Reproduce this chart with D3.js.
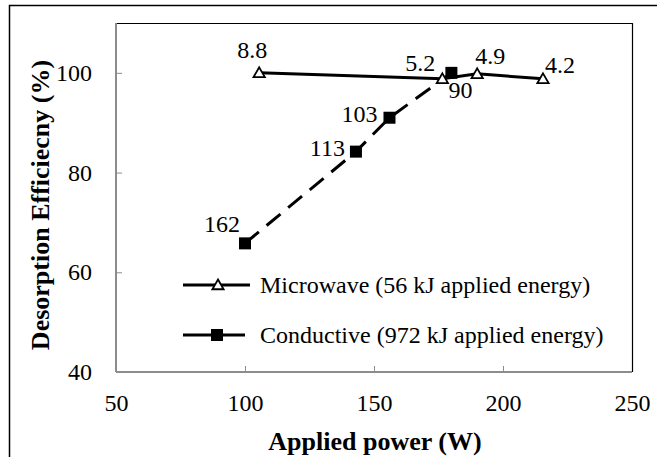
<!DOCTYPE html>
<html>
<head>
  <meta charset="utf-8">
  <title>Desorption efficiency</title>
  <script src="https://cdn.jsdelivr.net/npm/d3@7"></script>
  <style>
    html, body { margin: 0; padding: 0; background: #fff; }
    svg { display: block; }
    svg text { font-family: "Liberation Serif", "Times New Roman", serif; fill: #000; }
  </style>
</head>
<body>
  <svg id="chart" width="657" height="457"></svg>
  <script>
    // values
    let microPower = [105.5, 176.5, 190, 215.5]
    let microEff = [100, 98.8, 99.8, 98.8]
    let microLabels = ['8.8', '5.2', '4.9', '4.2']
    let condPower = [100, 143, 156, 180]
    let condEff = [65.8, 84.2, 91, 100]
    let condLabels = ['162', '113', '103', '90']
    let xTicks = [50, 100, 150, 200, 250]
    let yTicks = [40, 60, 80, 100]
    let seriesNames = ['Microwave (56 kJ applied energy)', 'Conductive (972 kJ applied energy)']

    let svg = d3.select('#chart')
    let pLeft = 116, pRight = 632, pTop = 23, pBottom = 372
    let axisColor = '#8c8c8c'

    let x = d3.scaleLinear().domain([50, 250]).range([pLeft, pRight])
    let y = d3.scaleLinear().domain([40, 110]).range([pBottom, pTop])

    // outer frame (runs off the bottom/right of the picture)
    svg.append('path')
      .attr('d', `M9.5,${457} V5.5 H${657}`)
      .attr('fill', 'none').attr('stroke', '#000').attr('stroke-width', 1.5)

    // plot box: top & right black
    svg.append('path')
      .attr('d', `M${pLeft},${pTop + 0.5} H${pRight + 0.5} V${pBottom}`)
      .attr('fill', 'none').attr('stroke', '#000').attr('stroke-width', 1.2)

    // axes
    let xAxis = d3.axisBottom(x).tickValues(xTicks).tickSize(-6).tickPadding(22)
    let yAxis = d3.axisLeft(y).tickValues(yTicks).tickSize(-6).tickPadding(24)

    let gx = svg.append('g').attr('transform', `translate(0,${pBottom})`).call(xAxis)
    let gy = svg.append('g').attr('transform', `translate(${pLeft},0)`).call(yAxis)

    ;[gx, gy].forEach(g => {
      g.attr('font-family', null).attr('font-size', null)
      g.select('.domain').attr('stroke', axisColor).attr('stroke-width', 2)
      g.selectAll('.tick line').attr('stroke', axisColor).attr('stroke-width', 1)
      g.selectAll('.tick text').style('font-size', '24px')
    })
    gx.select('.domain').attr('d', `M${pLeft},0H${pRight}`)
    gy.select('.domain').attr('d', `M0,${y(110)}V${pBottom}`)
    gx.selectAll('.tick text').attr('dy', '0.71em')
    gx.selectAll('.tick').filter(d => d === 50 || d === 250).select('line').remove()
    gy.selectAll('.tick').filter(d => d === 40).select('line').remove()

    // axis titles
    svg.append('text')
      .attr('x', 375).attr('y', 450)
      .attr('text-anchor', 'middle')
      .style('font-size', '26px').style('font-weight', 'bold')
      .text('Applied power (W)')

    svg.append('text')
      .attr('transform', 'translate(49,205) rotate(-90)')
      .attr('text-anchor', 'middle')
      .style('font-size', '26px').style('font-weight', 'bold')
      .text('Desorption Efficiecny (%)')

    let micro = microPower.map((p, i) => ({ x: p, y: microEff[i], label: microLabels[i] }))
    let cond = condPower.map((p, i) => ({ x: p, y: condEff[i], label: condLabels[i] }))

    let line = d3.line().x(d => x(d.x)).y(d => y(d.y))

    svg.append('path').datum(cond)
      .attr('d', line)
      .attr('fill', 'none').attr('stroke', '#000').attr('stroke-width', 3)
      .attr('stroke-dasharray', '18,10')

    svg.append('path').datum(micro)
      .attr('d', line)
      .attr('fill', 'none').attr('stroke', '#000').attr('stroke-width', 3)

    let tri = d3.symbol().type(d3.symbolTriangle).size(55)

    svg.selectAll('.sq').data(cond).join('rect')
      .attr('x', d => x(d.x) - 6).attr('y', d => y(d.y) - 6)
      .attr('width', 12).attr('height', 12)
      .attr('fill', '#000')

    svg.selectAll('.tri').data(micro).join('path')
      .attr('d', tri)
      .attr('transform', d => `translate(${x(d.x)},${y(d.y) + 1})`)
      .attr('fill', '#fff').attr('stroke', '#000').attr('stroke-width', 1.8)

    // point labels (offsets per point as placed in the figure)
    let microOff = [[-7, -15, 'middle'], [-7, -8, 'end'], [-2, -10, 'start'], [2, -6, 'start']]
    let condOff = [[-5, -11, 'end'], [-11, 4, 'end'], [-12, 4, 'end'], [-3, 25, 'start']]

    svg.selectAll('.ml').data(micro).join('text')
      .attr('x', (d, i) => x(d.x) + microOff[i][0])
      .attr('y', (d, i) => y(d.y) + microOff[i][1])
      .attr('text-anchor', (d, i) => microOff[i][2])
      .style('font-size', '24px')
      .text(d => d.label)

    svg.selectAll('.cl').data(cond).join('text')
      .attr('x', (d, i) => x(d.x) + condOff[i][0])
      .attr('y', (d, i) => y(d.y) + condOff[i][1])
      .attr('text-anchor', (d, i) => condOff[i][2])
      .style('font-size', '24px')
      .text(d => d.label)

    // legend
    let legend = svg.append('g').attr('transform', 'translate(183,285)')
    seriesNames.forEach((name, i) => {
      let g = legend.append('g').attr('transform', `translate(0,${i * 50})`)
      g.append('line').attr('x1', 0).attr('x2', i === 0 ? 67 : 62).attr('y1', 0).attr('y2', 0)
        .attr('stroke', '#000').attr('stroke-width', 3)
      if (i === 0) {
        g.append('path').attr('d', tri).attr('transform', 'translate(35,1)')
          .attr('fill', '#fff').attr('stroke', '#000').attr('stroke-width', 1.8)
      } else {
        g.append('rect').attr('x', 28).attr('y', -6).attr('width', 12).attr('height', 12).attr('fill', '#000')
      }
      g.append('text').attr('x', 77).attr('y', 0).attr('dy', '0.35em')
        .style('font-size', '24px')
        .text(name)
    })
  </script>
</body>
</html>
